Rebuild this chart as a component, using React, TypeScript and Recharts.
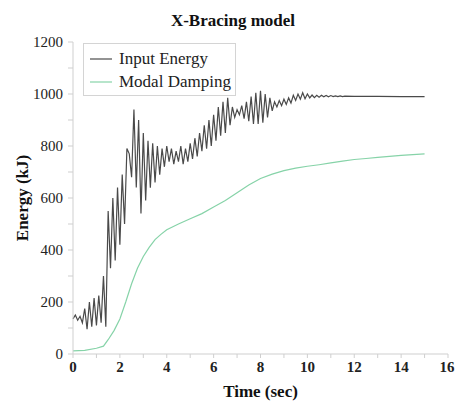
import React from 'react';
import { LineChart, Line, XAxis, YAxis } from 'recharts';

// Input energy (time in sec, energy in kJ)
const inputEnergy: [number, number][] = [
  [0, 135], [0.1, 150], [0.2, 130], [0.3, 145], [0.4, 120], [0.5, 175], [0.6, 95], [0.7, 200],
  [0.8, 105], [0.9, 215], [1.0, 110], [1.1, 225], [1.2, 120], [1.3, 300], [1.4, 105], [1.5, 550],
  [1.6, 330], [1.7, 600], [1.8, 360], [1.9, 640], [2.0, 420], [2.1, 690], [2.2, 500], [2.3, 790],
  [2.4, 770], [2.5, 680], [2.6, 940], [2.7, 640], [2.8, 900], [2.9, 540], [3.0, 850], [3.1, 590],
  [3.2, 820], [3.3, 640], [3.4, 810], [3.5, 660], [3.6, 800], [3.7, 690], [3.8, 790], [3.9, 720],
  [4.0, 800], [4.1, 740], [4.2, 790], [4.3, 730], [4.4, 780], [4.5, 740], [4.6, 800], [4.7, 730],
  [4.8, 790], [4.9, 740], [5.0, 810], [5.1, 750], [5.2, 830], [5.3, 760], [5.4, 850], [5.5, 780],
  [5.6, 880], [5.7, 790], [5.8, 900], [5.9, 800], [6.0, 920], [6.1, 820], [6.2, 950], [6.3, 840],
  [6.4, 970], [6.5, 850], [6.6, 985], [6.7, 880], [6.8, 950], [6.9, 910], [7.0, 940], [7.1, 920],
  [7.2, 955], [7.3, 905], [7.4, 970], [7.5, 895], [7.6, 990], [7.7, 885], [7.8, 1005], [7.9, 885],
  [8.0, 1012], [8.1, 890], [8.2, 1000], [8.3, 910], [8.4, 985], [8.5, 935], [8.6, 970], [8.7, 950],
  [8.8, 975], [8.9, 955], [9.0, 980], [9.1, 960], [9.2, 985], [9.3, 965], [9.4, 995], [9.5, 975],
  [9.6, 1000], [9.7, 980], [9.8, 1005], [9.9, 982], [10.0, 1000], [10.1, 985], [10.2, 996], [10.3, 986],
  [10.4, 995], [10.5, 988], [10.6, 995], [10.7, 989], [10.8, 994], [10.9, 989], [11.0, 994], [11.1, 990],
  [11.2, 993], [11.3, 990], [11.4, 993], [11.5, 990], [11.6, 992], [12.0, 991], [13.0, 991], [14.0, 990],
  [15.0, 990],
];

// Modal damping energy
const modalDamping: [number, number][] = [
  [0, 12], [0.5, 14], [1.0, 22], [1.3, 30], [1.5, 55], [1.75, 90], [2.0, 135], [2.25, 200],
  [2.5, 270], [2.75, 330], [3.0, 375], [3.25, 410], [3.5, 440], [3.75, 460], [4.0, 478], [4.5, 500],
  [5.0, 520], [5.5, 540], [6.0, 565], [6.5, 590], [7.0, 620], [7.5, 650], [8.0, 675], [8.5, 692],
  [9.0, 705], [9.5, 715], [10.0, 722], [10.5, 728], [11.0, 735], [11.5, 742], [12.0, 748], [12.5, 752],
  [13.0, 756], [13.5, 760], [14.0, 764], [14.5, 767], [15.0, 770],
];

const xTicks = [0, 1, 2, 3, 4, 5, 6, 7, 8, 9, 10, 11, 12, 13, 14, 15, 16];
const yTicks = [0, 100, 200, 300, 400, 500, 600, 700, 800, 900, 1000, 1100, 1200];
const seriesNames = ['Input Energy', 'Modal Damping'];

const INPUT_COLOR = '#4a4a4a';
const MODAL_COLOR = '#86d3a8';
const FONT = "'Liberation Serif'";

const inputData = inputEnergy.map(([t, e]) => ({ t, e }));
const modalData = modalDamping.map(([t, e]) => ({ t, e }));
const colors = [INPUT_COLOR, MODAL_COLOR];

const XTick = (props: any) => {
  const { x, y, payload } = props;
  if (payload.value % 2 !== 0) return <g />;
  return (
    <text x={x} y={y + 11} textAnchor="middle" fontFamily={FONT} fontSize={15} fontWeight="bold" fill="#222">
      {payload.value}
    </text>
  );
};

const YTick = (props: any) => {
  const { x, y, payload } = props;
  if (payload.value % 200 !== 0) return <g />;
  return (
    <text x={x} y={y + 5} textAnchor="end" fontFamily={FONT} fontSize={15} fill="#222">
      {payload.value}
    </text>
  );
};

export default function App() {
  return (
    <div style={{ position: 'absolute', left: 0, top: 0, width: 455, height: 405, background: '#fff' }}>
      <svg width={455} height={40} style={{ position: 'absolute', left: 0, top: 0 }}>
        <text x={233} y={26} textAnchor="middle" fontFamily={FONT} fontSize={17} fontWeight="bold" fill="#111">
          X-Bracing model
        </text>
      </svg>
      <LineChart width={455} height={405} margin={{ top: 42, right: 7, left: 0, bottom: 0 }}>
        <XAxis
          type="number"
          dataKey="t"
          domain={[0, 16]}
          ticks={xTicks}
          height={51}
          stroke="#cfcfcf"
          tickSize={4}
          tickMargin={3}
          tick={<XTick />}
          allowDuplicatedCategory={false}
          label={{
            value: 'Time (sec)',
            position: 'insideBottom',
            offset: 8,
            fontFamily: FONT,
            fontSize: 17,
            fontWeight: 'bold',
            fill: '#111',
          }}
        />
        <YAxis
          type="number"
          dataKey="e"
          domain={[0, 1200]}
          ticks={yTicks}
          width={73}
          stroke="#cfcfcf"
          tickSize={5}
          tickMargin={5}
          tick={<YTick />}
          label={{
            value: 'Energy (kJ)',
            angle: -90,
            position: 'insideLeft',
            offset: 22,
            fontFamily: FONT,
            fontSize: 17,
            fontWeight: 'bold',
            fill: '#111',
            style: { textAnchor: 'middle' },
          }}
        />
        <Line
          data={inputData}
          dataKey="e"
          name={seriesNames[0]}
          stroke={INPUT_COLOR}
          strokeWidth={1.2}
          dot={false}
          type="linear"
          isAnimationActive={false}
        />
        <Line
          data={modalData}
          dataKey="e"
          name={seriesNames[1]}
          stroke={MODAL_COLOR}
          strokeWidth={1.2}
          dot={false}
          type="linear"
          isAnimationActive={false}
        />
      </LineChart>
      <svg width={156} height={56} style={{ position: 'absolute', left: 82, top: 42 }}>
        <rect x={1.5} y={1.5} width={152} height={52} fill="#fff" stroke="#d4d4d4" />
        {seriesNames.map((name, i) => (
          <g key={name}>
            <line x1={8} x2={30} y1={17 + i * 23} y2={17 + i * 23} stroke={colors[i]} strokeWidth={1.2} />
            <text x={37} y={22 + i * 23} fontFamily={FONT} fontSize={17} fill="#222">
              {name}
            </text>
          </g>
        ))}
      </svg>
    </div>
  );
}
